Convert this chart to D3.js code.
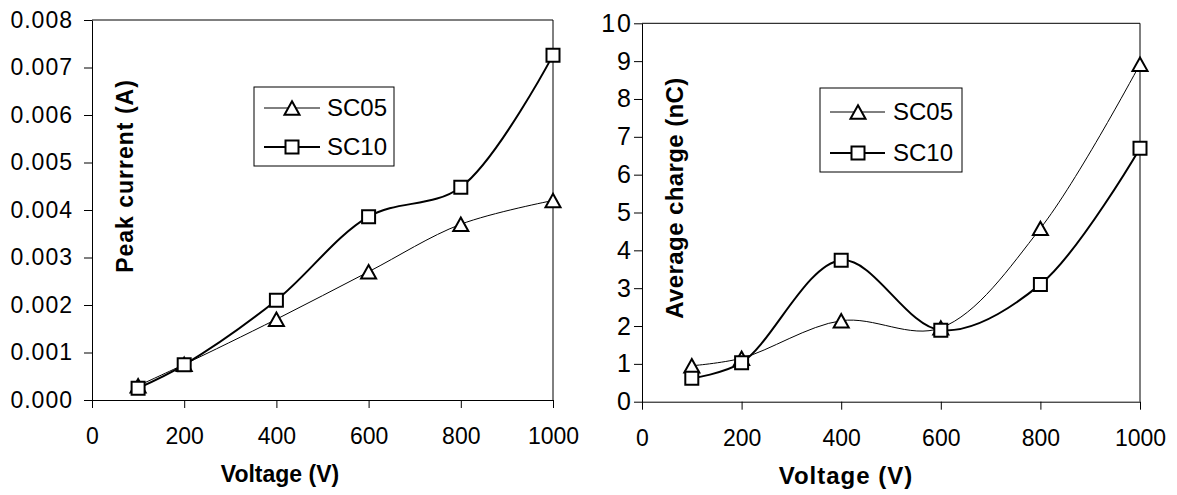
<!DOCTYPE html>
<html>
<head>
<meta charset="utf-8">
<script src="https://cdn.jsdelivr.net/npm/d3@7"></script>
<style>
  body { margin: 0; background: #fff; }
  svg { display: block; font-family: "Liberation Sans", Arial, sans-serif; }
</style>
</head>
<body>
<div id="chart"></div>
<script>
// data
const voltage = [100, 200, 400, 600, 800, 1000];
const seriesNames = ["SC05", "SC10"];

const peakSC05 = [0.0003, 0.00075, 0.0017, 0.0027, 0.0037, 0.0042];
const peakSC10 = [0.00025, 0.00074, 0.0021, 0.00386, 0.00448, 0.00726];

const chargeSC05 = [0.95, 1.15, 2.14, 1.95, 4.58, 8.92];
const chargeSC10 = [0.62, 1.03, 3.74, 1.89, 3.1, 6.7];

const voltTicks = [0, 200, 400, 600, 800, 1000];
const peakTicks = [0, 0.001, 0.002, 0.003, 0.004, 0.005, 0.006, 0.007, 0.008];
const chargeTicks = [0, 1, 2, 3, 4, 5, 6, 7, 8, 9, 10];

const width = 1177, height = 495;

const svg = d3.select("#chart")
  .append("svg")
  .attr("width", width)
  .attr("height", height);

// triangle centred on its bounding box, like the spreadsheet marker
const triangle = {
  draw(ctx, size) {
    const h = Math.sqrt(size);
    ctx.moveTo(0, -h / 2);
    ctx.lineTo(h * 0.56, h / 2);
    ctx.lineTo(-h * 0.56, h / 2);
    ctx.closePath();
  }
};
const markerTypes = [d3.symbol(triangle, 180), d3.symbol(d3.symbolSquare, 169)];
const lineWidths = [1, 2];

const panels = [
  {
    x0: 92, x1: 553, y0: 400, y1: 20,
    yDomain: [0, 0.008], yTicks: peakTicks, yFormat: d3.format(".3f"),
    yPad: 11, yTickSize: 23, yTickSpacing: 1,
    series: [peakSC05, peakSC10],
    yTitle: "Peak current (A)", yTitleX: 133, yTitleY: 176, yTitleSize: 23, yTitleSpacing: 1,
    xTitleX: 280, xTitleY: 482, xTitleSize: 23, xTitleSpacing: 0,
    legend: { x: 254, y: 87, w: 140, h: 79, rows: [108, 147], lx0: 264, lx1: 320, mx: 292, tx: 327 }
  },
  {
    x0: 642, x1: 1140, y0: 401.7, y1: 23.3,
    yDomain: [0, 10], yTicks: chargeTicks, yFormat: d3.format("d"),
    yPad: 1, yTickSize: 25, yTickSpacing: 2,
    series: [chargeSC05, chargeSC10],
    yTitle: "Average charge (nC)", yTitleX: 683, yTitleY: 198, yTitleSize: 24, yTitleSpacing: 0.4,
    xTitleX: 846, xTitleY: 484, xTitleSize: 24, xTitleSpacing: 1,
    legend: { x: 820, y: 88, w: 142, h: 84, rows: [112, 153], lx0: 830, lx1: 885, mx: 858, tx: 893 }
  }
];

panels.forEach(p => {
  const x = d3.scaleLinear().domain([0, 1000]).range([p.x0, p.x1]);
  const y = d3.scaleLinear().domain(p.yDomain).range([p.y0, p.y1]);

  const g = svg.append("g");

  // plot area frame (top and right)
  g.append("path")
    .attr("d", `M${p.x0},${p.y1}H${p.x1}V${p.y0}`)
    .attr("fill", "none")
    .attr("stroke", "#000")
    .attr("stroke-width", 1);

  const xAxis = g.append("g")
    .attr("transform", `translate(0,${p.y0})`)
    .call(d3.axisBottom(x).tickValues(voltTicks).tickFormat(d3.format("d"))
      .tickSize(8).tickSizeOuter(0).tickPadding(20));

  const yAxis = g.append("g")
    .attr("transform", `translate(${p.x0},0)`)
    .call(d3.axisLeft(y).tickValues(p.yTicks).tickFormat(p.yFormat)
      .tickSize(8).tickSizeOuter(0).tickPadding(p.yPad));

  [xAxis, yAxis].forEach(a => {
    a.selectAll("path, line").attr("stroke", "#000").attr("stroke-width", 1);
    a.selectAll("text")
      .attr("fill", "#000")
      .style("font-size", "23px")
      .style("font-family", "Liberation Sans, Arial, sans-serif");
  });
  yAxis.selectAll("text")
    .style("font-size", p.yTickSize + "px")
    .style("letter-spacing", p.yTickSpacing + "px");

  // axis titles
  g.append("text")
    .attr("x", p.xTitleX)
    .attr("y", p.xTitleY)
    .attr("text-anchor", "middle")
    .style("font-size", p.xTitleSize + "px")
    .style("font-weight", "bold")
    .style("letter-spacing", p.xTitleSpacing + "px")
    .text("Voltage (V)");

  g.append("text")
    .attr("transform", `translate(${p.yTitleX},${p.yTitleY}) rotate(-90)`)
    .attr("text-anchor", "middle")
    .style("font-size", p.yTitleSize + "px")
    .style("font-weight", "bold")
    .style("letter-spacing", p.yTitleSpacing + "px")
    .text(p.yTitle);

  // smoothed lines
  const line = d3.line()
    .x((d, i) => x(voltage[i]))
    .y(d => y(d))
    .curve(d3.curveCatmullRom.alpha(0.5));

  p.series.forEach((vals, s) => {
    g.append("path")
      .datum(vals)
      .attr("d", line)
      .attr("fill", "none")
      .attr("stroke", "#000")
      .attr("stroke-width", lineWidths[s]);
  });

  p.series.forEach((vals, s) => {
    g.selectAll(null)
      .data(vals)
      .enter()
      .append("path")
      .attr("d", markerTypes[s])
      .attr("transform", (d, i) => `translate(${x(voltage[i])},${y(d)})`)
      .attr("fill", "#fff")
      .attr("stroke", "#000")
      .attr("stroke-width", 2);
  });

  // legend
  const L = p.legend;
  g.append("rect")
    .attr("x", L.x).attr("y", L.y)
    .attr("width", L.w).attr("height", L.h)
    .attr("fill", "#fff")
    .attr("stroke", "#000")
    .attr("stroke-width", 1);

  seriesNames.forEach((name, s) => {
    const ry = L.rows[s];
    g.append("line")
      .attr("x1", L.lx0).attr("x2", L.lx1)
      .attr("y1", ry).attr("y2", ry)
      .attr("stroke", "#000")
      .attr("stroke-width", lineWidths[s]);
    g.append("path")
      .attr("d", markerTypes[s])
      .attr("transform", `translate(${L.mx},${ry})`)
      .attr("fill", "#fff")
      .attr("stroke", "#000")
      .attr("stroke-width", 2);
    g.append("text")
      .attr("x", L.tx)
      .attr("y", ry)
      .attr("dy", "0.35em")
      .style("font-size", "24px")
      .text(name);
  });
});
</script>
</body>
</html>
